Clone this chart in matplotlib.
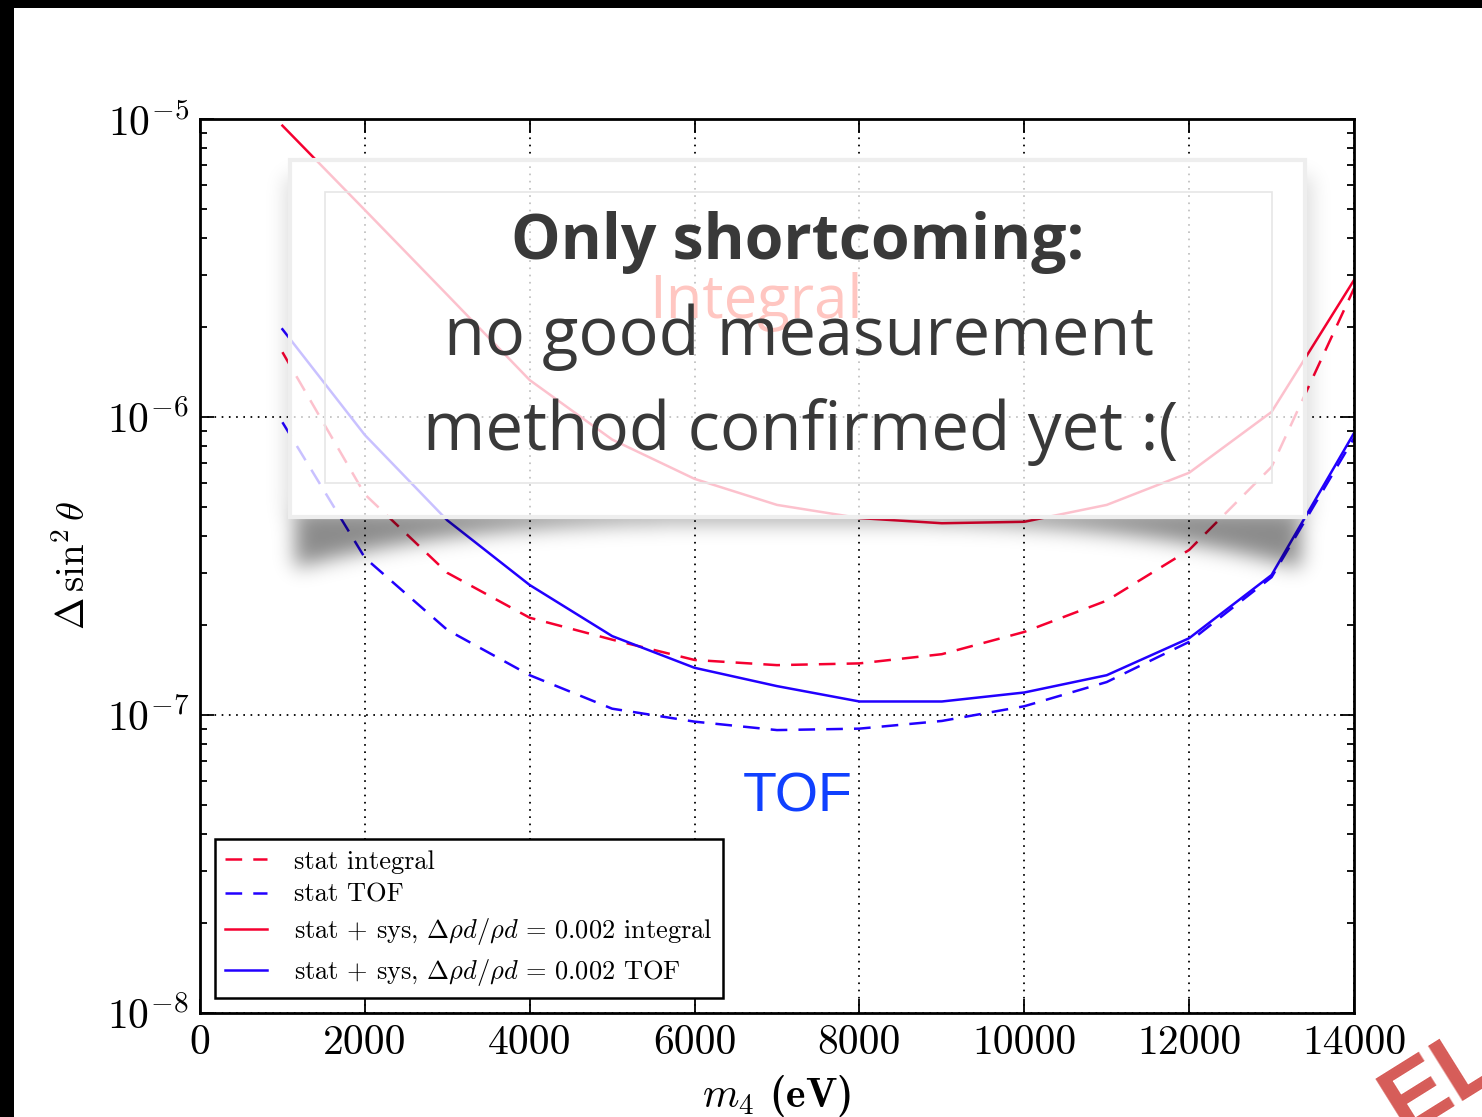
import numpy as np
import matplotlib
matplotlib.use("Agg")
import matplotlib.pyplot as plt
from matplotlib.patches import Rectangle
from matplotlib.ticker import FixedLocator, LogLocator, NullFormatter

# ---------------- data ----------------
m4 = [1000, 2000, 3000, 4000, 5000, 6000, 7000, 8000, 9000, 10000, 11000, 12000, 13000, 14000]
stat_integral = [1.65e-6, 5.5e-7, 3.0e-7, 2.12e-7, 1.79e-7, 1.53e-7, 1.47e-7, 1.49e-7, 1.6e-7, 1.9e-7, 2.42e-7, 3.58e-7, 6.8e-7, 2.7e-6]
stat_tof = [9.6e-7, 3.37e-7, 1.93e-7, 1.36e-7, 1.05e-7, 9.5e-8, 8.9e-8, 9.0e-8, 9.55e-8, 1.07e-7, 1.29e-7, 1.76e-7, 2.9e-7, 8.5e-7]
sys_integral = [9.5e-6, 4.95e-6, 2.57e-6, 1.33e-6, 8.4e-7, 6.2e-7, 5.07e-7, 4.58e-7, 4.4e-7, 4.45e-7, 5.07e-7, 6.5e-7, 1.04e-6, 2.88e-6]
sys_tof = [1.97e-6, 8.7e-7, 4.5e-7, 2.73e-7, 1.84e-7, 1.44e-7, 1.25e-7, 1.11e-7, 1.11e-7, 1.19e-7, 1.36e-7, 1.81e-7, 2.95e-7, 8.83e-7]
labels = ["stat integral", "stat TOF",
          r"stat + sys, $\Delta\rho d/\rho d\,=\,0.002$ integral",
          r"stat + sys, $\Delta\rho d/\rho d\,=\,0.002$ TOF"]
xticks = [0, 2000, 4000, 6000, 8000, 10000, 12000, 14000]

RED = "#f50030"
BLUE = "#2200ff"

plt.rcParams["font.family"] = ["cmr10", "DejaVu Serif"]
plt.rcParams["mathtext.fontset"] = "cm"
plt.rcParams["axes.formatter.use_mathtext"] = True
plt.rcParams["axes.unicode_minus"] = False
plt.rcParams["lines.scale_dashes"] = False

W, H = 1482, 1117
fig = plt.figure(figsize=(W / 100, H / 100), dpi=100)
fig.patch.set_facecolor("white")

ax = fig.add_axes([200 / W, 1 - 1013 / H, 1154 / W, 894 / H])
ax.set_zorder(1)
ax.plot(m4, stat_integral, color=RED, lw=1.8, dashes=(12, 8), label=labels[0])
ax.plot(m4, stat_tof, color=BLUE, lw=1.8, dashes=(12, 8), label=labels[1])
ax.plot(m4, sys_integral, color=RED, lw=1.8, label=labels[2])
ax.plot(m4, sys_tof, color=BLUE, lw=1.8, label=labels[3])

ax.set_yscale("log")
ax.set_xlim(0, 14000)
ax.set_ylim(1e-8, 1e-5)
ax.xaxis.set_major_locator(FixedLocator(xticks))
ax.set_xticklabels([str(t) for t in xticks])
ax.yaxis.set_minor_locator(LogLocator(base=10, subs=np.arange(2, 10)))
ax.yaxis.set_minor_formatter(NullFormatter())
ax.tick_params(which="both", direction="in", top=True, right=True, labelsize=30, width=1.3)
ax.tick_params(which="major", length=10, pad=8)
ax.tick_params(which="minor", length=5)
ax.grid(True, which="major", color="black", linestyle=(0, (1.2, 4)), linewidth=1.3)
for s in ax.spines.values():
    s.set_linewidth(2)
ax.set_xlabel(r"$m_4$ (eV)", fontsize=30, labelpad=8, family="cmb10")
ax.set_ylabel(r"$\Delta\,\sin^2\theta$", fontsize=28, labelpad=10)

leg = ax.legend(loc="lower left", fontsize=19, fancybox=False, framealpha=1,
                edgecolor="black", handlelength=1.6, borderpad=0.4,
                labelspacing=0.36, borderaxespad=0.55, handletextpad=1.0)
leg.get_frame().set_linewidth(1.8)

# ---------------- slide overlay ----------------
ov = fig.add_axes([0, 0, 1, 1])
ov.set_zorder(5)
ov.set_xlim(0, W)
ov.set_ylim(H, 0)
ov.axis("off")

# shadow
x0, x1, y0, y1 = 240, 1360, 130, 640
xs = np.arange(x0, x1)
ys = np.arange(y0, y1)
X, Y = np.meshgrid(xs, ys)
u = np.abs(X - 797) / 515.0
ybot = 517 + 4 + 50 * u ** 3
mask = ((X > 294) & (X < 1301) & (Y >= 512) & (Y <= ybot)).astype(float)
side = (((X > 284) & (X < 1312)) & (Y > 175) & (Y < 517)).astype(float) * 0.3
m = np.maximum(mask, side)

def blur(a, sigma):
    r = int(3 * sigma)
    k = np.exp(-0.5 * (np.arange(-r, r + 1) / sigma) ** 2)
    k /= k.sum()
    a = np.apply_along_axis(lambda v: np.convolve(v, k, mode="same"), 0, a)
    a = np.apply_along_axis(lambda v: np.convolve(v, k, mode="same"), 1, a)
    return a

b = blur(m, 10.0)
alpha = 0.46 * b
inside = (X >= 290) & (X <= 1305) & (Y >= 160) & (Y <= 517)
alpha[inside] = 0
img = np.zeros((len(ys), len(xs), 4))
img[..., 3] = np.clip(alpha, 0, 1)
ov.imshow(img, extent=(x0, x1, y1, y0), interpolation="bilinear", zorder=1, aspect="auto")

ov.add_patch(Rectangle((290, 160), 1015, 357, facecolor="white", alpha=0.76,
                       edgecolor="none", zorder=2))
ov.add_patch(Rectangle((290, 160), 1015, 357, fill=False, edgecolor="#eeeeee",
                       lw=3, zorder=2))
ov.add_patch(Rectangle((325, 192), 947, 291, fill=False, edgecolor="#e6e6e6",
                       lw=1.2, zorder=3))

ov.text(756, 302, "Integral", fontsize=43, color="#ffc6c1", family="Open Sans",
        ha="center", va="center", zorder=3)
ov.text(798, 243, "Only shortcoming:", fontsize=45, fontweight="bold", color="#393939",
        family="Open Sans", ha="center", va="center", zorder=4)
ov.text(799, 337, "no good measurement", fontsize=48, color="#393939",
        family="Open Sans", ha="center", va="center", zorder=4)
ov.text(801, 432, "method confirmed yet :(", fontsize=48.5, color="#393939",
        family="Open Sans", ha="center", va="center", zorder=4)
ov.text(798, 798, "TOF", fontsize=40, color="#1040ff", family="Liberation Sans",
        ha="center", va="center", zorder=4)

# red stamp fragment
ov.text(1404, 1134, "EL", fontsize=68, fontweight="bold", color="#d65c58",
        family="Liberation Sans", rotation=32, rotation_mode="anchor",
        ha="left", va="baseline", zorder=4, clip_on=False)

# black slide borders
ov.add_patch(Rectangle((0, 0), W, 8, facecolor="black", edgecolor="none", zorder=6))
ov.add_patch(Rectangle((0, 0), 14, H, facecolor="black", edgecolor="none", zorder=6))

fig.savefig("out.png", dpi=100)
